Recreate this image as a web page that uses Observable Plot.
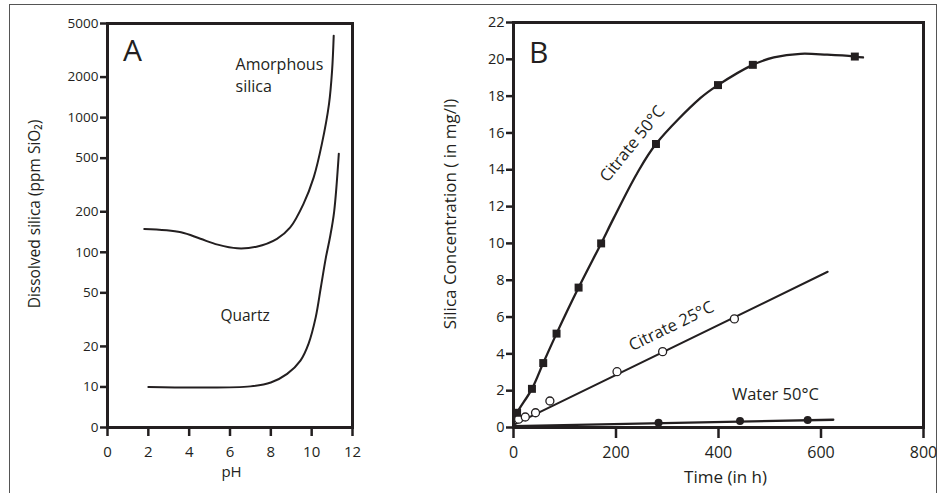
<!DOCTYPE html>
<html><head><meta charset="utf-8">
<script src="https://cdn.jsdelivr.net/npm/d3@7"></script>
<script src="https://cdn.jsdelivr.net/npm/@observablehq/plot@0.6"></script>
<style>
html,body{margin:0;padding:0;background:#fff;}
#wrap{position:relative;width:945px;height:493px;overflow:hidden;font-family:"Open Sans",sans-serif;}
#border{position:absolute;left:9px;top:4px;width:928px;height:540px;border:1.5px solid #555;box-sizing:border-box;}
#a{position:absolute;left:0;top:0}
#b{position:absolute;left:430px;top:0}
</style></head><body>
<div id="wrap"><div id="border"></div><div id="a"></div><div id="b"></div></div>
<script>
// ---------- Panel A data ----------
const phTicks = [0, 2, 4, 6, 8, 10, 12];
const silicaTicks = [5, 10, 20, 50, 100, 200, 500, 1000, 2000, 5000];
const silicaTickLabels = ["0", "10", "20", "50", "100", "200", "500", "1000", "2000", "5000"];
const amorphousPH  = [1.8, 3.6, 4.55, 5.4, 6.35, 7.3, 8.3, 8.95, 9.6, 10.1, 10.5, 10.85, 11.0, 11.08];
const amorphousPPM = [149, 141, 126, 114, 107, 110, 126, 153, 229, 360, 638, 1265, 2236, 4063];
const quartzPH  = [2.0, 4.5, 7.0, 8.0, 8.8, 9.45, 9.85, 10.2, 10.45, 10.7, 10.9, 11.1, 11.33];
const quartzPPM = [10, 9.9, 10.1, 10.8, 12.5, 15.7, 21, 33, 55, 92, 130, 200, 540];

// ---------- Panel B data ----------
const timeTicks = [0, 200, 400, 600, 800];
const concTicks = [0, 2, 4, 6, 8, 10, 12, 14, 16, 18, 20, 22];
const c50Time  = [7, 36, 58, 84, 127, 171, 278, 399, 467, 666];
const c50Conc  = [0.8, 2.1, 3.5, 5.1, 7.6, 10.0, 15.4, 18.6, 19.7, 20.15];
const c50FitTime = [0, 7, 36, 58, 84, 127, 171, 196, 241, 278, 365, 399, 467, 508, 560, 612, 666, 682];
const c50FitConc = [0.3, 0.8, 2.1, 3.5, 5.1, 7.6, 10.0, 11.4, 13.8, 15.4, 17.9, 18.6, 19.7, 20.1, 20.3, 20.25, 20.15, 20.1];
const c25Time = [10, 23, 43, 71, 202, 291, 431];
const c25Conc = [0.45, 0.57, 0.8, 1.44, 3.03, 4.12, 5.9];
const c25FitTime = [0, 613];
const c25FitConc = [0.14, 8.46];
const w50Time = [283, 442, 574];
const w50Conc = [0.26, 0.35, 0.41];
const w50FitTime = [0, 624];
const w50FitConc = [0.08, 0.42];

const ink = "#231f20";
const font = "'Open Sans', sans-serif";

const zip = (xs, ys) => xs.map((x, i) => ({x, y: ys[i]}));

// ---------- Panel A ----------
const aWidth = 430, aLeft = 107, aRight = 78;
const aFrameW = aWidth - aLeft - aRight;
const plotA = Plot.plot({
  width: aWidth, height: 493,
  marginLeft: aLeft, marginRight: aRight, marginTop: 23, marginBottom: 66,
  style: {fontFamily: font, color: ink, background: "transparent", overflow: "visible"},
  x: {domain: [0, 12]},
  y: {type: "log", domain: [5, 5000], axis: null},
  marks: [
    Plot.axisX(phTicks, {tickSize: 9, tickPadding: 10, strokeWidth: 2.5, fontSize: 15, label: null}),
    // log-scale y axis: ticks and labels drawn explicitly so every value (incl. 5-mantissa) shows
    Plot.tickY(silicaTicks, {y: d => d, insetLeft: -7, insetRight: aFrameW, strokeWidth: 2.5, stroke: ink}),
    Plot.text(silicaTicks, {y: d => d, text: d => silicaTickLabels[silicaTicks.indexOf(d)], frameAnchor: "left", textAnchor: "end", lineAnchor: "middle", dx: -9, fontSize: 13.5, fill: ink}),
    Plot.frame({strokeWidth: 3, stroke: ink}),
    Plot.line(zip(amorphousPH, amorphousPPM), {x: "x", y: "y", curve: "catmull-rom", strokeWidth: 2, stroke: ink}),
    Plot.line(zip(quartzPH, quartzPPM), {x: "x", y: "y", curve: "catmull-rom", strokeWidth: 2, stroke: ink}),
    Plot.text([{x: 1.22, y: 3090, t: "A"}], {x: "x", y: "y", text: "t", fontSize: 30, textAnchor: "middle", lineAnchor: "middle", fill: ink}),
    Plot.text([{x: 6.27, y: 2124, t: "Amorphous\nsilica"}], {x: "x", y: "y", text: "t", fontSize: 16, lineHeight: 1.38, textAnchor: "start", lineAnchor: "middle", fill: ink}),
    Plot.text([{x: 5.53, y: 33.9, t: "Quartz"}], {x: "x", y: "y", text: "t", fontSize: 15.5, textAnchor: "start", lineAnchor: "middle", fill: ink}),
    Plot.text(["pH"], {frameAnchor: "bottom", dx: 1.5, dy: 45, fontSize: 15, textAnchor: "middle", lineAnchor: "middle", fill: ink}),
    Plot.text(["Dissolved silica (ppm SiO₂)"], {frameAnchor: "left", rotate: -90, dx: -72, dy: -11.5, fontSize: 15.5, textAnchor: "middle", lineAnchor: "middle", fill: ink})
  ]
});
document.getElementById("a").appendChild(plotA);

// ---------- Panel B ----------
const plotB = Plot.plot({
  width: 515, height: 493,
  marginLeft: 83, marginRight: 22, marginTop: 22, marginBottom: 66,
  style: {fontFamily: font, color: ink, background: "transparent", overflow: "visible"},
  x: {domain: [0, 800]},
  y: {domain: [0, 22]},
  marks: [
    Plot.axisX(timeTicks, {tickSize: 11, tickPadding: 8, strokeWidth: 2.5, fontSize: 16, label: null}),
    Plot.axisY(concTicks, {tickSize: 7, tickPadding: 2, strokeWidth: 2.5, fontSize: 14.5, label: null}),
    Plot.frame({strokeWidth: 3, stroke: ink}),
    Plot.line(zip(c50FitTime, c50FitConc), {x: "x", y: "y", curve: "catmull-rom", strokeWidth: 2.3, stroke: ink}),
    Plot.line(zip(c25FitTime, c25FitConc), {x: "x", y: "y", strokeWidth: 2, stroke: ink}),
    Plot.line(zip(w50FitTime, w50FitConc), {x: "x", y: "y", strokeWidth: 2.3, stroke: ink}),
    Plot.dot(zip(c25Time, c25Conc), {x: "x", y: "y", r: 4, fill: "white", stroke: ink, strokeWidth: 1.3}),
    Plot.dot(zip(c50Time, c50Conc), {x: "x", y: "y", symbol: "square", r: 4.5, fill: ink, stroke: "none"}),
    Plot.dot(zip(w50Time, w50Conc), {x: "x", y: "y", r: 4, fill: ink, stroke: "none"}),
    Plot.text([{x: 49, y: 20.3, t: "B"}], {x: "x", y: "y", text: "t", fontSize: 30, textAnchor: "middle", lineAnchor: "middle", fill: ink}),
    Plot.text([{x: 232, y: 15.4, t: "Citrate 50°C"}], {x: "x", y: "y", text: "t", rotate: -51, fontSize: 16.5, textAnchor: "middle", lineAnchor: "middle", fill: ink}),
    Plot.text([{x: 308, y: 5.5, t: "Citrate 25°C"}], {x: "x", y: "y", text: "t", rotate: -26, fontSize: 16.5, textAnchor: "middle", lineAnchor: "middle", fill: ink}),
    Plot.text([{x: 511, y: 1.8, t: "Water 50°C"}], {x: "x", y: "y", text: "t", fontSize: 16.5, textAnchor: "middle", lineAnchor: "middle", fill: ink}),
    Plot.text(["Time (in h)"], {frameAnchor: "bottom", dx: 7, dy: 50, fontSize: 17, textAnchor: "middle", lineAnchor: "middle", fill: ink}),
    Plot.text(["Silica Concentration ( in mg/l)"], {frameAnchor: "left", rotate: -90, dx: -63, dy: -11, fontSize: 17, textAnchor: "middle", lineAnchor: "middle", fill: ink})
  ]
});
document.getElementById("b").appendChild(plotB);
</script>
</body></html>
